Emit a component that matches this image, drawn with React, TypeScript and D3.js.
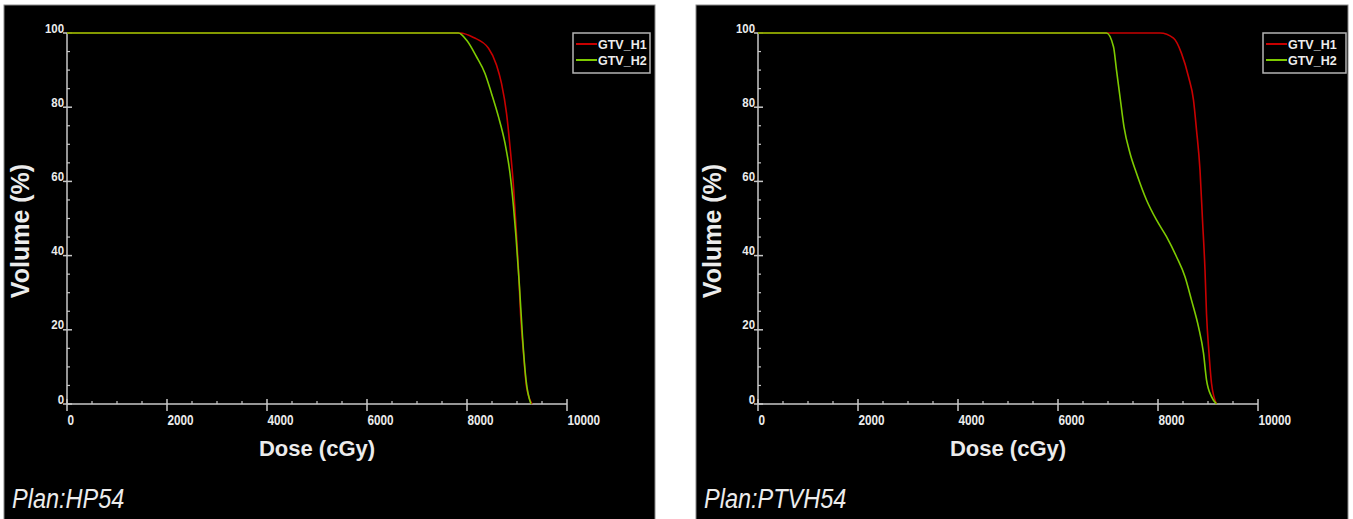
import React from 'react';
import * as d3 from 'd3';

// dose-volume histogram data
const doseTicks = [0, 2000, 4000, 6000, 8000, 10000];
const volumeTicks = [0, 20, 40, 60, 80, 100];
const seriesNames = ['GTV_H1', 'GTV_H2'];
const planNames = ['Plan:HP54', 'Plan:PTVH54'];

const hp54H1Dose = [0, 7860, 8130, 8430, 8590, 8690, 8790, 8860, 8930, 8980, 9030, 9070, 9130, 9190, 9300];
const hp54H1Vol = [100, 100, 98.8, 95.9, 91.4, 86.4, 78.4, 69.4, 58.6, 47.8, 36.1, 24.5, 13.7, 4.7, 0];
const hp54H2Dose = [0, 7830, 7990, 8190, 8360, 8490, 8630, 8760, 8860, 8930, 8980, 9050, 9110, 9180, 9280];
const hp54H2Vol = [100, 100, 98.1, 93.6, 89.1, 83.7, 77.4, 70.3, 62.2, 53.2, 45.1, 31.6, 18.1, 6.5, 0];

const ptvH1Dose = [0, 8040, 8310, 8470, 8610, 8710, 8770, 8840, 8890, 8940, 8970, 9020, 9070, 9170];
const ptvH1Vol = [100, 100, 98.6, 94.5, 88.2, 81.9, 73.9, 63.1, 49.6, 36.1, 24.4, 13.7, 5.6, 0];
const ptvH2Dose = [0, 6970, 7110, 7170, 7240, 7320, 7440, 7570, 7770, 7970, 8170, 8370, 8540, 8670, 8810, 8910, 8970, 9070, 9170];
const ptvH2Vol = [100, 100, 96.3, 90, 82.8, 74.7, 67.6, 62.2, 55, 49.6, 45.1, 39.7, 34.3, 28, 20.8, 13.7, 6.5, 2, 0];

const colors = ['#c80000', '#7ecb00'];
const axisColor = '#c8c8c8';
const textColor = '#ececec';
const font = '"Liberation Sans", Arial, sans-serif';

const zip = (d: number[], v: number[]) => d.map((x, i) => ({ dose: x, vol: v[i] }));

const panels = [
  {
    plan: planNames[0],
    left: 4, right: 655, axisX: 67, legendX: 573, legendW: 77,
    series: [zip(hp54H1Dose, hp54H1Vol), zip(hp54H2Dose, hp54H2Vol)],
  },
  {
    plan: planNames[1],
    left: 696, right: 1348, axisX: 758, legendX: 1263, legendW: 83,
    series: [zip(ptvH1Dose, ptvH1Vol), zip(ptvH2Dose, ptvH2Vol)],
  },
];

// squeezed text, the original uses a condensed face
const Narrow = ({ x, y, anchor, size, sx, bold, italic, children }: any) => (
  <text
    transform={`translate(${x},${y}) scale(${sx},1)`}
    textAnchor={anchor || 'start'}
    fill={textColor}
    fontFamily={font}
    fontWeight={bold ? 'bold' : 'normal'}
    fontStyle={italic ? 'italic' : 'normal'}
    fontSize={size}
  >
    {children}
  </text>
);

const Panel = ({ p }: { p: typeof panels[0] }) => {
  const x = d3.scaleLinear().domain([0, 10000]).range([p.axisX, p.axisX + 500]);
  const y = d3.scaleLinear().domain([0, 100]).range([404, 33]);
  const line = d3.line<{ dose: number; vol: number }>()
    .x(d => x(d.dose))
    .y(d => y(d.vol))
    .curve(d3.curveMonotoneX);

  const minorX = d3.range(0, 10001, 500).filter(v => v % 2000 !== 0);
  const minorY = d3.range(0, 101, 5).filter(v => v % 20 !== 0);
  const y0 = y(0);
  const x0 = x(0);

  return (
    <g>
      <rect x={p.left} y={5} width={p.right - p.left} height={520} fill="#000" stroke="#8a8a8a" strokeWidth={1} />

      {/* axes */}
      <line x1={x0} x2={x(10000)} y1={y0} y2={y0} stroke={axisColor} strokeWidth={1.5} />
      <line x1={x0} x2={x0} y1={y(100)} y2={y0} stroke={axisColor} strokeWidth={1.5} />
      {minorX.map(v => (
        <line key={'mx' + v} x1={x(v)} x2={x(v)} y1={y0 - 3} y2={y0} stroke={axisColor} strokeWidth={1.2} />
      ))}
      {doseTicks.map(v => (
        <g key={'x' + v}>
          <line x1={x(v)} x2={x(v)} y1={y0 - 5} y2={y0 + 7} stroke={axisColor} strokeWidth={1.5} />
          <Narrow x={x(v) + 0.5} y={y0 + 21} size={14} sx={0.84} bold>{v}</Narrow>
        </g>
      ))}
      {minorY.map(v => (
        <line key={'my' + v} x1={x0} x2={x0 + 3} y1={y(v)} y2={y(v)} stroke={axisColor} strokeWidth={1.2} />
      ))}
      {volumeTicks.map(v => (
        <g key={'y' + v}>
          <line x1={x0 - 4} x2={x0 + 5} y1={y(v)} y2={y(v)} stroke={axisColor} strokeWidth={1.5} />
          <Narrow x={x0 - 3} y={y(v) - 0.5} anchor="end" size={13} sx={0.88} bold>{v}</Narrow>
        </g>
      ))}

      <text x={(x0 + x(10000)) / 2} y={456} textAnchor="middle" fill={textColor} fontFamily={font} fontWeight="bold" fontSize={22}>
        Dose (cGy)
      </text>
      <text
        transform={`translate(${p.left + 25},${231}) rotate(-90)`}
        textAnchor="middle"
        fill={textColor}
        fontFamily={font}
        fontWeight="bold"
        fontSize={25}
      >
        Volume (%)
      </text>

      {p.series.map((s, i) => (
        <path key={i} d={line(s) || ''} fill="none" stroke={colors[i]} strokeWidth={1.6} />
      ))}

      {/* legend */}
      <rect x={p.legendX} y={33} width={p.legendW} height={40} fill="none" stroke="#b4b4b4" strokeWidth={1.5} />
      {seriesNames.map((n, i) => (
        <g key={n}>
          <line x1={p.legendX + 3} x2={p.legendX + 24} y1={44 + i * 16} y2={44 + i * 16} stroke={colors[i]} strokeWidth={2} />
          <text x={p.legendX + 25} y={48.5 + i * 16} fill={textColor} fontFamily={font} fontWeight="bold" fontSize={12.5}>
            {n}
          </text>
        </g>
      ))}

      <Narrow x={p.left + 8} y={508} size={28} sx={0.84} italic>{p.plan}</Narrow>
    </g>
  );
};

export default function App() {
  return (
    <div style={{ position: 'fixed', left: 0, top: 0 }}>
      <svg width={1353} height={519} style={{ display: 'block', background: '#fff' }}>
        {panels.map((p, i) => (
          <Panel key={i} p={p} />
        ))}
      </svg>
    </div>
  );
}
